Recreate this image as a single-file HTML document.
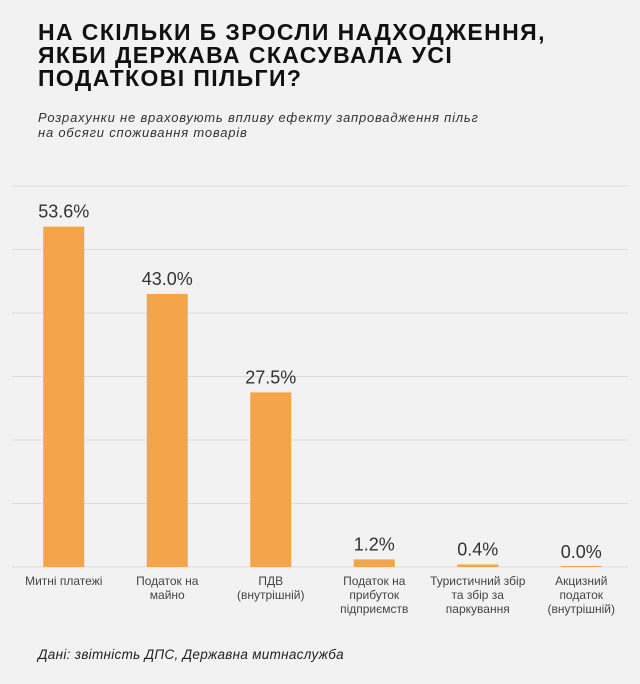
<!DOCTYPE html>
<html><head><meta charset="utf-8">
<style>
body{margin:0;background:#f2f2f2;font-family:"Liberation Sans",sans-serif;}
#wrap{position:relative;width:640px;height:684px;overflow:hidden;background:#f2f2f2;}
h1{position:absolute;left:38px;top:21px;margin:0;font-size:23px;line-height:23px;font-weight:bold;color:#111;letter-spacing:1.4px;}
.sub{position:absolute;left:38px;top:110px;font-size:13px;line-height:15px;font-style:italic;color:#333;letter-spacing:0.8px;}
.foot{position:absolute;left:38px;top:647px;font-size:13.5px;font-style:italic;color:#222;letter-spacing:0.3px;}
svg{position:absolute;left:0;top:0;}
</style></head><body>
<div id="wrap">
<h1>НА СКІЛЬКИ Б ЗРОСЛИ НАДХОДЖЕННЯ,<br>ЯКБИ ДЕРЖАВА СКАСУВАЛА УСІ<br>ПОДАТКОВІ ПІЛЬГИ?</h1>
<div class="sub">Розрахунки не враховують впливу ефекту запровадження пільг<br>на обсяги споживання товарів</div>
<svg id="chart" width="640" height="684"></svg>
<div class="foot">Дані: звітність ДПС, Державна митнаслужба</div>
</div>
<script>
const categories=[["Митні платежі"],["Податок на","майно"],["ПДВ","(внутрішній)"],["Податок на","прибуток","підприємств"],["Туристичний збір","та збір за","паркування"],["Акцизний","податок","(внутрішній)"]];
const values=[53.6,43.0,27.5,1.2,0.4,0.0];
const valueLabels=["53.6%","43.0%","27.5%","1.2%","0.4%","0.0%"];
const gridTicks=[0,10,20,30,40,50,60];
const NS="http://www.w3.org/2000/svg";
const svg=document.getElementById('chart');
const x0=12,x1=633,yBase=567,yTop=186,vMax=60;
const band=(x1-x0)/categories.length;
const y=v=>yBase-(v/vMax)*(yBase-yTop);
const xc=i=>x0+band*(i+0.5);
function mk(t,a){const e=document.createElementNS(NS,t);for(const k in a)e.setAttribute(k,a[k]);svg.appendChild(e);return e;}
gridTicks.forEach(t=>{
 const l=mk('line',{x1:x0,x2:628,y1:y(t),y2:y(t),stroke:'#dcdcdc','stroke-width':1});
 
 
});
values.forEach((v,i)=>{
 const h=Math.max(yBase-y(v),1);
 const r=mk('rect',{x:xc(i)-20.5,y:yBase-h,width:41,height:h,fill:'#f4a54a'});
 
 
 const t=mk('text',{x:xc(i),y:y(v)-9,'text-anchor':'middle','font-size':18,fill:'#333','font-family':'Liberation Sans, sans-serif'});
 t.textContent=valueLabels[i];
 
 
 categories[i].forEach((ln,j)=>{
  const c=mk('text',{x:xc(i),y:585+j*14,'text-anchor':'middle','font-size':12,fill:'#444','font-family':'Liberation Sans, sans-serif'});
  c.textContent=ln;
  
  
 });
});
</script>
</body></html>
